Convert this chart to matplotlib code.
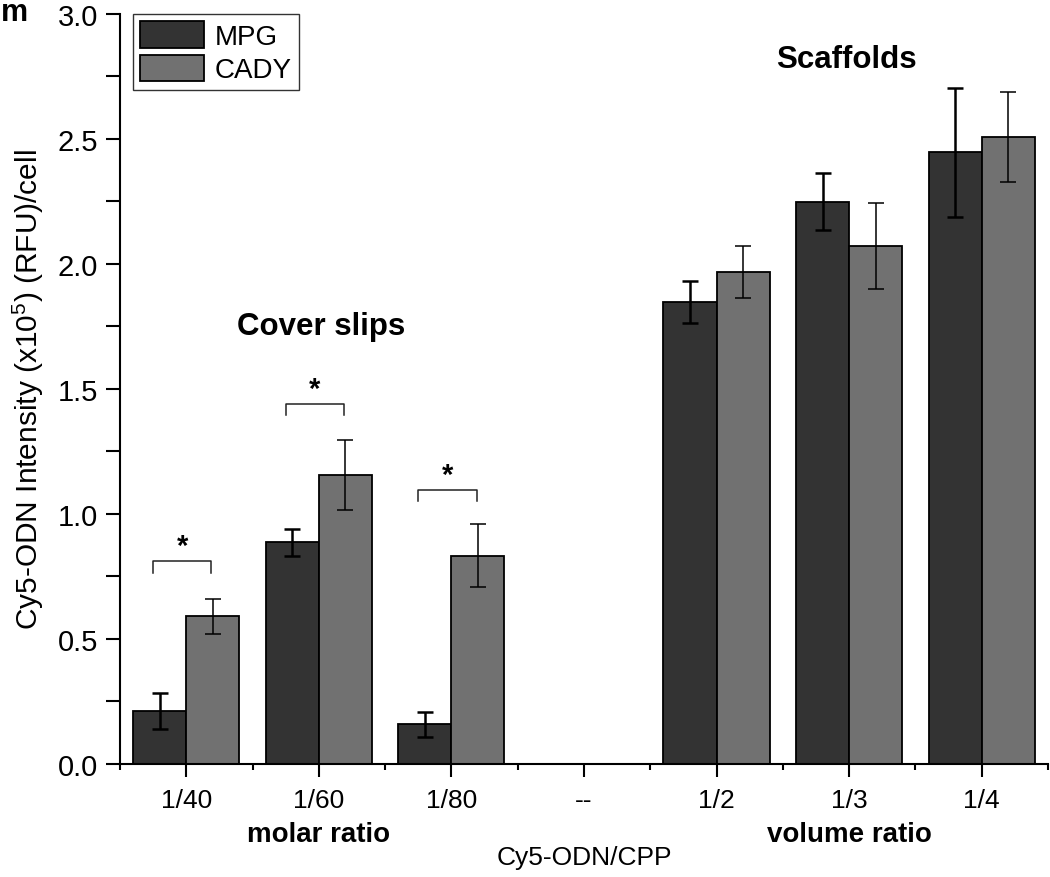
import numpy as np
import matplotlib
matplotlib.use('Agg')
import matplotlib.pyplot as plt

plt.rcParams['font.family'] = ['Liberation Sans', 'DejaVu Sans']
plt.rcParams['mathtext.fontset'] = 'custom'
plt.rcParams['mathtext.rm'] = 'Liberation Sans'
plt.rcParams['mathtext.default'] = 'regular'

# data (x10^5 RFU/cell)
categories = ['1/40', '1/60', '1/80', '--', '1/2', '1/3', '1/4']
mpg = [0.21, 0.886, 0.158, np.nan, 1.847, 2.249, 2.446]
mpg_err = [0.072, 0.054, 0.05, np.nan, 0.083, 0.113, 0.257]
cady = [0.59, 1.155, 0.832, np.nan, 1.968, 2.072, 2.508]
cady_err = [0.07, 0.141, 0.126, np.nan, 0.104, 0.171, 0.18]

# significance brackets (cover slips)
sig_idx = [0, 1, 2]
sig_height = [0.81, 1.44, 1.095]

x = np.arange(1, len(categories) + 1)
w = 0.4

fig = plt.figure(figsize=(10.5, 8.78), dpi=100)
ax = fig.add_axes([0.1143, 0.1287, 0.8837, 0.8543])

ax.bar(x - w / 2, mpg, w, color='#333333', edgecolor='black', linewidth=1.3, label='MPG')
ax.bar(x + w / 2, cady, w, color='#717171', edgecolor='black', linewidth=1.3, label='CADY')
ax.errorbar(x - w / 2, mpg, yerr=mpg_err, fmt='none', ecolor='black', elinewidth=1.8,
            capsize=5.8, capthick=1.8)
ax.errorbar(x + w / 2, cady, yerr=cady_err, fmt='none', ecolor='black', elinewidth=1.1,
            capsize=5.8, capthick=1.1)

# brackets with stars
for i, h in zip(sig_idx, sig_height):
    xs = [x[i] - w / 2 - 0.05, x[i] - w / 2 - 0.05, x[i] + w / 2 - 0.01, x[i] + w / 2 - 0.01]
    ax.plot(xs, [h - 0.045, h, h, h - 0.045], color='#222222', lw=1.1)
    ax.text((xs[0] + xs[-1]) / 2, h + 0.005, '*', ha='center', va='bottom', fontsize=21,
            fontweight='bold')

ax.text(2.02, 1.75, 'Cover slips', ha='center', va='center', fontsize=22.5, fontweight='bold')
ax.text(5.98, 2.82, 'Scaffolds', ha='center', va='center', fontsize=22.5, fontweight='bold')

ax.set_xlim(0.5, 7.5)
ax.set_ylim(0, 3.0)
ax.set_xticks(x)
ax.set_xticklabels(categories, fontsize=19)
ax.set_xticks(np.arange(0.5, 8, 1), minor=True)
ax.set_yticks(np.arange(0, 3.01, 0.5))
ax.set_yticklabels(['%.1f' % v for v in np.arange(0, 3.01, 0.5)], fontsize=21)
ax.set_yticks(np.arange(0.25, 3, 0.5), minor=True)

ax.tick_params(axis='x', which='major', direction='out', length=9, width=1.5, pad=8)
ax.tick_params(axis='x', which='minor', direction='out', length=4, width=1.5)
ax.tick_params(axis='y', which='both', direction='out', length=10, width=1.5, pad=6)

for s in ['top', 'right']:
    ax.spines[s].set_visible(False)
for s in ['left', 'bottom']:
    ax.spines[s].set_linewidth(1.5)

tr = ax.get_xaxis_transform()
ax.text(2, -0.093, 'molar ratio', transform=tr, ha='center', va='center', fontsize=20,
        fontweight='bold')
ax.text(6, -0.093, 'volume ratio', transform=tr, ha='center', va='center', fontsize=20,
        fontweight='bold')
ax.text(4, -0.124, 'Cy5-ODN/CPP', transform=tr, ha='center', va='center', fontsize=19)

ax.set_ylabel('Cy5-ODN Intensity (x10$^{5}$) (RFU)/cell', fontsize=21.5, labelpad=8)

leg = ax.legend(loc='upper left', bbox_to_anchor=(0.014, 1.0), fontsize=20, frameon=True,
                fancybox=False, handlelength=2.3, handleheight=1.1, labelspacing=0.18,
                handletextpad=0.4, borderpad=0.25, borderaxespad=0)
leg.get_frame().set_edgecolor('black')
leg.get_frame().set_linewidth(1.0)

fig.text(0.001, 0.985, 'm', fontsize=22, fontweight='bold', va='center', ha='left')

fig.savefig('out.png', dpi=100)
